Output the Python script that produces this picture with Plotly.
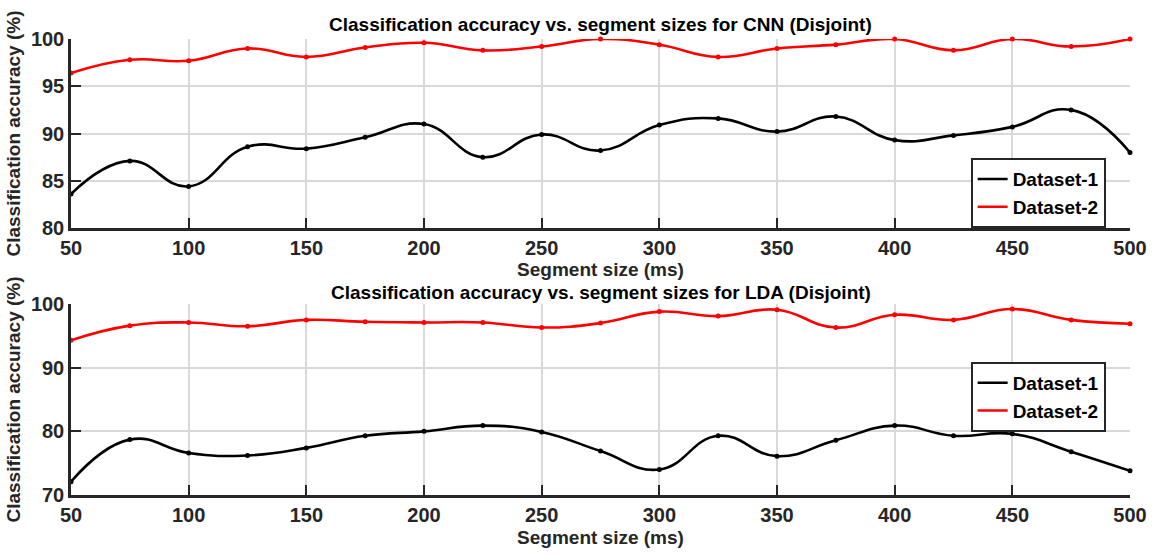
import plotly.graph_objects as go

segment_ms = [50, 75, 100, 125, 150, 175, 200, 225, 250, 275, 300, 325, 350, 375, 400, 425, 450, 475, 500]

cnn_dataset1 = [83.6, 87.1, 84.4, 88.6, 88.4, 89.6, 91.0, 87.5, 89.9, 88.2, 90.9, 91.6, 90.2, 91.8, 89.3, 89.8, 90.7, 92.5, 88.0]
cnn_dataset2 = [96.4, 97.8, 97.7, 99.0, 98.1, 99.1, 99.6, 98.8, 99.2, 100.0, 99.4, 98.1, 99.0, 99.4, 100.0, 98.8, 100.0, 99.2, 100.0]

lda_dataset1 = [72.1, 78.7, 76.6, 76.2, 77.4, 79.3, 80.0, 80.9, 79.9, 76.9, 74.0, 79.3, 76.1, 78.6, 80.9, 79.3, 79.6, 76.8, 73.8]
lda_dataset2 = [94.3, 96.6, 97.1, 96.5, 97.5, 97.2, 97.1, 97.1, 96.3, 97.0, 98.8, 98.1, 99.1, 96.3, 98.3, 97.5, 99.2, 97.5, 96.9]

series_names = ["Dataset-1", "Dataset-2"]
titles = ["Classification accuracy vs. segment sizes for CNN (Disjoint)",
          "Classification accuracy vs. segment sizes for LDA (Disjoint)"]
x_title = "Segment size (ms)"
y_title = "Classification accuracy (%)"

FONT = "Arial, Liberation Sans, sans-serif"
DARK = "#262626"
colors = ["#000000", "#ff0000"]

fig = go.Figure()

def add_pair(d1, d2, xa, ya, legend):
    for name, vals, col in zip(series_names, [d1, d2], colors):
        fig.add_trace(go.Scatter(
            x=segment_ms, y=vals, name=name, mode="lines",
            line=dict(color=col, width=2.6, shape="spline", smoothing=1.3),
            xaxis=xa, yaxis=ya, legend=legend, cliponaxis=False))
    for name, vals, col in zip(series_names, [d1, d2], colors):
        fig.add_trace(go.Scatter(
            x=segment_ms, y=vals, name=name, mode="markers",
            marker=dict(color=col, size=5), showlegend=False,
            xaxis=xa, yaxis=ya, cliponaxis=False))

add_pair(cnn_dataset1, cnn_dataset2, "x", "y", "legend")
add_pair(lda_dataset1, lda_dataset2, "x2", "y2", "legend2")

axis_common = dict(
    showline=True, linecolor=DARK, linewidth=2.5,
    ticks="inside", ticklen=10, tickwidth=2, tickcolor=DARK,
    showgrid=True, gridcolor="#d9d9d9", gridwidth=1.5,
    zeroline=False, mirror=False, automargin=False,
    tickfont=dict(family=FONT, size=20, color=DARK, weight="bold"),
)

title_font = dict(family=FONT, size=19, color="#000000", weight="bold")
axis_title_font = dict(family=FONT, size=19, color=DARK, weight="bold")

legend_common = dict(
    bgcolor="white", bordercolor=DARK, borderwidth=2,
    font=dict(family=FONT, size=19, color="#000000", weight="bold"),
    xanchor="right", yanchor="middle", x=0.977,
    tracegroupgap=0, itemwidth=30,
)

fig.update_layout(
    width=1158, height=555,
    margin=dict(l=71, r=28, t=39, b=60),
    paper_bgcolor="white", plot_bgcolor="white",
    showlegend=True,
    xaxis=dict(domain=[0, 1], anchor="y", range=[50, 500], dtick=50, tick0=50,
               title=dict(text=x_title, font=axis_title_font, standoff=3), **axis_common),
    yaxis=dict(domain=[0.5855, 1.0], anchor="x", range=[80, 100], dtick=5,
               title=dict(text=y_title, font=axis_title_font, standoff=6), **axis_common),
    xaxis2=dict(domain=[0, 1], anchor="y2", range=[50, 500], dtick=50, tick0=50,
                title=dict(text=x_title, font=axis_title_font, standoff=6), **axis_common),
    yaxis2=dict(domain=[0.0, 0.4189], anchor="x2", range=[70, 100], dtick=10,
                title=dict(text=y_title, font=axis_title_font, standoff=6), **axis_common),
    legend=dict(y=0.662, **legend_common),
    legend2=dict(y=0.215, **legend_common),
    annotations=[
        dict(text=titles[0], x=0.5, xref="paper", y=1.0, yref="paper",
             yanchor="bottom", yshift=2, showarrow=False, font=title_font),
        dict(text=titles[1], x=0.5, xref="paper", y=0.4189, yref="paper",
             yanchor="bottom", yshift=-1, showarrow=False, font=title_font),
    ],
)

fig.write_html("out.html")
